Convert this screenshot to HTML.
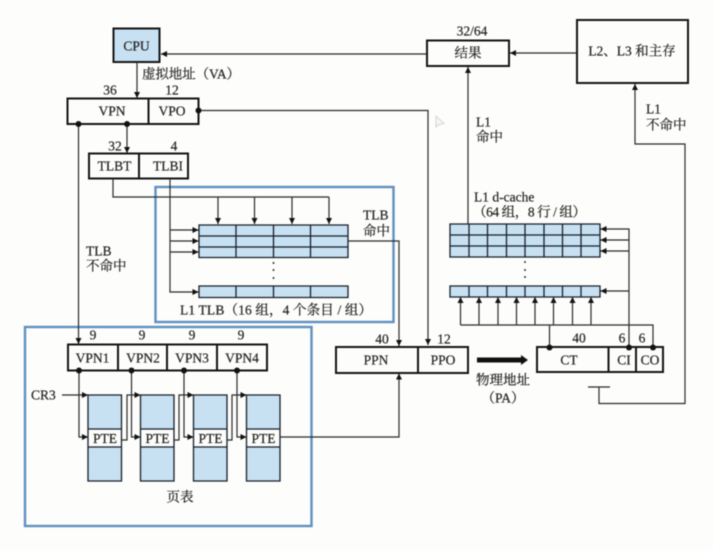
<!DOCTYPE html>
<html><head><meta charset="utf-8">
<style>
html,body{margin:0;padding:0;background:#fdfdfb;width:713px;height:551px;overflow:hidden}
svg{display:block;filter:blur(.4px)}
text{font-family:"Liberation Serif","Noto Serif CJK SC",serif;font-size:13.5px;fill:#222;stroke:#222;stroke-width:.2;text-anchor:middle;dominant-baseline:central}
.l{text-anchor:start}
.b{fill:none;stroke:#151515;stroke-width:2}
.ln{fill:none;stroke:#2a2a2a;stroke-width:1.2}
.g{fill:none;stroke:#141e28;stroke-width:1.3}
.blue{fill:none;stroke:#5f90c2;stroke-width:2.4}
.f{fill:#c8e1f2}
</style></head><body>
<svg width="713" height="551" viewBox="0 0 713 551" xmlns="http://www.w3.org/2000/svg">
<defs>
<marker id="a" markerUnits="userSpaceOnUse" markerWidth="7" markerHeight="6" refX="6" refY="3" orient="auto"><path d="M0 0L6 3L0 6z" fill="#111"/></marker>
</defs>

<!-- blue highlight boxes -->
<rect class="blue" x="155.5" y="187" width="238" height="135"/>
<rect class="blue" x="25" y="327" width="286.5" height="199"/>

<!-- CPU -->
<rect x="113.5" y="28.5" width="46" height="33.5" fill="#c8e1f2" stroke="#151515" stroke-width="2"/>
<text x="136.500" y="46">CPU</text>
<path class="ln" d="M428 54H161" marker-end="url(#a)"/>
<path class="ln" d="M137 62V98" marker-end="url(#a)"/>
<text class="l" x="142" y="74" textLength="98">虚拟地址（VA）</text>

<!-- VPN / VPO -->
<text x="110" y="90">36</text><text x="172" y="90">12</text>
<rect class="b" x="67.500" y="98.500" width="131" height="25.500" fill="none"/>
<path class="b" d="M148.500 98.500V124"/>
<text x="112" y="111">VPN</text><text x="172" y="111">VPO</text>
<path class="ln" d="M198 110.500H428V345" marker-end="url(#a)"/>
<path class="ln" d="M127 124V153" marker-end="url(#a)"/>
<path class="ln" d="M78.500 124V344" marker-end="url(#a)"/>
<circle cx="78.500" cy="124" r="3" fill="#111"/><circle cx="127" cy="124" r="3" fill="#111"/><circle cx="198.500" cy="110.500" r="3" fill="#111"/>

<!-- TLBT / TLBI -->
<text x="115" y="146">32</text><text x="174" y="146">4</text>
<rect class="b" x="89" y="153.500" width="99" height="25"/>
<path class="b" d="M139 153.500V178.500"/>
<text x="114.500" y="166">TLBT</text><text x="168" y="166">TLBI</text>

<!-- TLB connectors -->
<path class="ln" d="M113 178.500V197H329"/>
<path class="ln" d="M218 197V224" marker-end="url(#a)"/>
<path class="ln" d="M254.500 197V224" marker-end="url(#a)"/>
<path class="ln" d="M292 197V224" marker-end="url(#a)"/>
<path class="ln" d="M329 197V224" marker-end="url(#a)"/>
<path class="ln" d="M170 178.500V292H198.500" marker-end="url(#a)"/>
<path class="ln" d="M170 230H198.500" marker-end="url(#a)"/>
<path class="ln" d="M170 241H198.500" marker-end="url(#a)"/>
<path class="ln" d="M170 252H198.500" marker-end="url(#a)"/>

<!-- TLB tables -->
<rect class="f" x="199" y="225" width="149" height="32.500"/>
<path class="g" d="M199 225H348V257.500H199ZM199 236H348M199 247H348M236 225V257.500M273.500 225V257.500M310.500 225V257.500"/>
<rect class="f" x="199" y="286" width="149" height="11.500"/>
<path class="g" d="M199 286H348V297.500H199ZM236 286V297.500M273.500 286V297.500M310.500 286V297.500"/>
<circle cx="273.500" cy="263" r="1" fill="#333"/><circle cx="273.500" cy="270" r="1" fill="#333"/><circle cx="273.500" cy="278" r="1" fill="#333"/>
<text x="180" y="310" style="text-anchor:start" textLength="192">L1 TLB（16 组，4 个条目 / 组）</text>
<text class="l" x="363" y="215">TLB</text><text class="l" x="363" y="231">命中</text>
<path class="ln" d="M348 241H399V346" marker-end="url(#a)"/>
<text class="l" x="86" y="251">TLB</text><text class="l" x="86" y="266">不命中</text>

<!-- VPN1-4 -->
<text x="93" y="335">9</text><text x="142" y="335">9</text><text x="192" y="335">9</text><text x="241" y="335">9</text>
<rect class="b" x="68" y="344.500" width="199" height="26"/>
<path class="b" d="M118 344.500V370.500M167 344.500V370.500M217 344.500V370.500"/>
<text x="92.500" y="358">VPN1</text><text x="143" y="358">VPN2</text><text x="192" y="358">VPN3</text><text x="242" y="358">VPN4</text>

<!-- PTE columns -->
<rect class="f" x="88" y="395" width="33.500" height="86"/><rect fill="#fdfdfb" x="88" y="429" width="33.500" height="18"/>
<rect class="f" x="140.500" y="395" width="33.500" height="86"/><rect fill="#fdfdfb" x="140.500" y="429" width="33.500" height="18"/>
<rect class="f" x="193.500" y="395" width="33.500" height="86"/><rect fill="#fdfdfb" x="193.500" y="429" width="33.500" height="18"/>
<rect class="f" x="246.500" y="395" width="33.500" height="86"/><rect fill="#fdfdfb" x="246.500" y="429" width="33.500" height="18"/>
<path class="g" d="M88 395h33.500v86h-33.500zM88 429h33.500M88 447h33.500"/>
<path class="g" d="M140.500 395h33.500v86h-33.500zM140.500 429h33.500M140.500 447h33.500"/>
<path class="g" d="M193.500 395h33.500v86h-33.500zM193.500 429h33.500M193.500 447h33.500"/>
<path class="g" d="M246.500 395h33.500v86h-33.500zM246.500 429h33.500M246.500 447h33.500"/>
<text x="105" y="438.500">PTE</text><text x="157.500" y="438.500">PTE</text><text x="210.500" y="438.500">PTE</text><text x="263.500" y="438.500">PTE</text>
<text x="180" y="497">页表</text>
<text class="l" x="31" y="395">CR3</text>
<path class="ln" d="M62 395H88" marker-end="url(#a)"/>
<path class="ln" d="M79 370.500V437H88" marker-end="url(#a)"/>
<path class="ln" d="M131.500 370.500V437H140.500" marker-end="url(#a)"/>
<path class="ln" d="M184 370.500V437H193.500" marker-end="url(#a)"/>
<path class="ln" d="M237 370.500V437H246.500" marker-end="url(#a)"/>
<path class="ln" d="M121.500 440H127V395H140.500" marker-end="url(#a)"/>
<path class="ln" d="M174 440H179V395H193.500" marker-end="url(#a)"/>
<path class="ln" d="M227 440H232V395H246.500" marker-end="url(#a)"/>
<circle cx="79" cy="370.500" r="3" fill="#111"/><circle cx="131.500" cy="370.500" r="3" fill="#111"/><circle cx="184" cy="370.500" r="3" fill="#111"/><circle cx="237" cy="370.500" r="3" fill="#111"/>
<path class="ln" d="M280 437H399V373.500" marker-end="url(#a)"/>

<!-- PPN / PPO -->
<text x="382" y="339">40</text><text x="444" y="339">12</text>
<rect class="b" x="336" y="347" width="132" height="26"/>
<path class="b" d="M418 347V373"/>
<text x="376" y="360">PPN</text><text x="443" y="360">PPO</text>
<path d="M477 357.500H521V355L528 360L521 365V362.500H477Z" fill="#111"/>
<text x="503" y="380">物理地址</text><text x="503" y="398">（PA）</text>

<!-- CT / CI / CO -->
<text x="579" y="338">40</text><text x="622" y="338">6</text><text x="642" y="338">6</text>
<rect class="b" x="537" y="347" width="126" height="25"/>
<path class="b" d="M608.500 347V372M636 347V372"/>
<text x="569" y="360">CT</text><text x="624" y="360">CI</text><text x="650" y="360">CO</text>
<path class="ln" d="M549.500 347V325M460.500 325H653V347"/>
<path class="ln" d="M460.500 325V297" marker-end="url(#a)"/>
<path class="ln" d="M479 325V297" marker-end="url(#a)"/>
<path class="ln" d="M498 325V297" marker-end="url(#a)"/>
<path class="ln" d="M516.500 325V297" marker-end="url(#a)"/>
<path class="ln" d="M535 325V297" marker-end="url(#a)"/>
<path class="ln" d="M553.500 325V297" marker-end="url(#a)"/>
<path class="ln" d="M572.500 325V297" marker-end="url(#a)"/>
<path class="ln" d="M591 325V297" marker-end="url(#a)"/>
<path class="ln" d="M629 347V229H600.500" marker-end="url(#a)"/>
<path class="ln" d="M629 240H600.500" marker-end="url(#a)"/>
<path class="ln" d="M629 251H600.500" marker-end="url(#a)"/>
<path class="ln" d="M629 291H600.500" marker-end="url(#a)"/>
<circle cx="549.500" cy="347.500" r="3" fill="#111"/><circle cx="629" cy="347.500" r="3" fill="#111"/><circle cx="653" cy="347.500" r="3" fill="#111"/>

<!-- Cache tables -->
<rect class="f" x="450" y="224" width="150" height="33"/>
<path class="g" d="M450 224H600V257H450ZM450 235H600M450 246H600M469 224V257M487.500 224V257M506.500 224V257M525 224V257M544 224V257M562.500 224V257M581 224V257"/>
<rect class="f" x="450" y="286" width="150" height="11"/>
<path class="g" d="M450 286H600V297H450ZM469 286V297M487.500 286V297M506.500 286V297M525 286V297M544 286V297M562.500 286V297M581 286V297"/>
<circle cx="525" cy="262" r="1" fill="#333"/><circle cx="525" cy="270" r="1" fill="#333"/><circle cx="525" cy="277" r="1" fill="#333"/>
<text class="l" x="474" y="197">L1 d-cache</text>
<text class="l" x="473" y="212" textLength="113">（64 组，8 行 / 组）</text>

<!-- Result -->
<path class="ln" d="M468 224V67" marker-end="url(#a)"/>
<text class="l" x="476" y="122">L1</text><text class="l" x="476" y="137">命中</text>
<text x="472" y="31">32/64</text>
<rect class="b" x="427" y="40.500" width="82" height="25.500"/>
<text x="468" y="53">结果</text>
<path class="ln" d="M577 53H510" marker-end="url(#a)"/>

<!-- L2 -->
<rect class="b" x="577" y="20" width="111" height="63"/>
<text x="632" y="51">L2、L3 和主存</text>
<path class="ln" d="M588 387H610M599 387V403.500H685V144H635V84" marker-end="url(#a)"/>
<text class="l" x="646" y="109">L1</text><text class="l" x="646" y="125">不命中</text>

<!-- cursor -->
<path d="M436 116V127L439 124.500L444 123.500Z" fill="#f6f6f6" stroke="#ccc" stroke-width=".8"/>
</svg>
</body></html>
